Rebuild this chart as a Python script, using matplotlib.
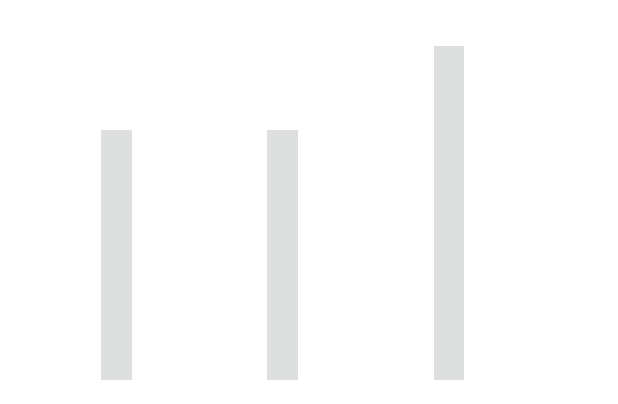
import matplotlib
matplotlib.use("Agg")
import matplotlib.pyplot as plt

# Data
categories = ["A", "B", "C"]
values = [3, 3, 4]

fig = plt.figure(figsize=(6.18, 4.04), dpi=100)
ax = fig.add_axes([0, 0, 1, 1])

positions = range(len(categories))
ax.bar(positions, values, width=0.186, color="#dee0df", edgecolor="none")

# place the bars like the reference, no axes shown
ax.set_xlim(-0.697, 3.015)
ax.set_ylim(-0.287, 4.551)
ax.axis("off")

fig.savefig("out.png", dpi=100, facecolor="white")
